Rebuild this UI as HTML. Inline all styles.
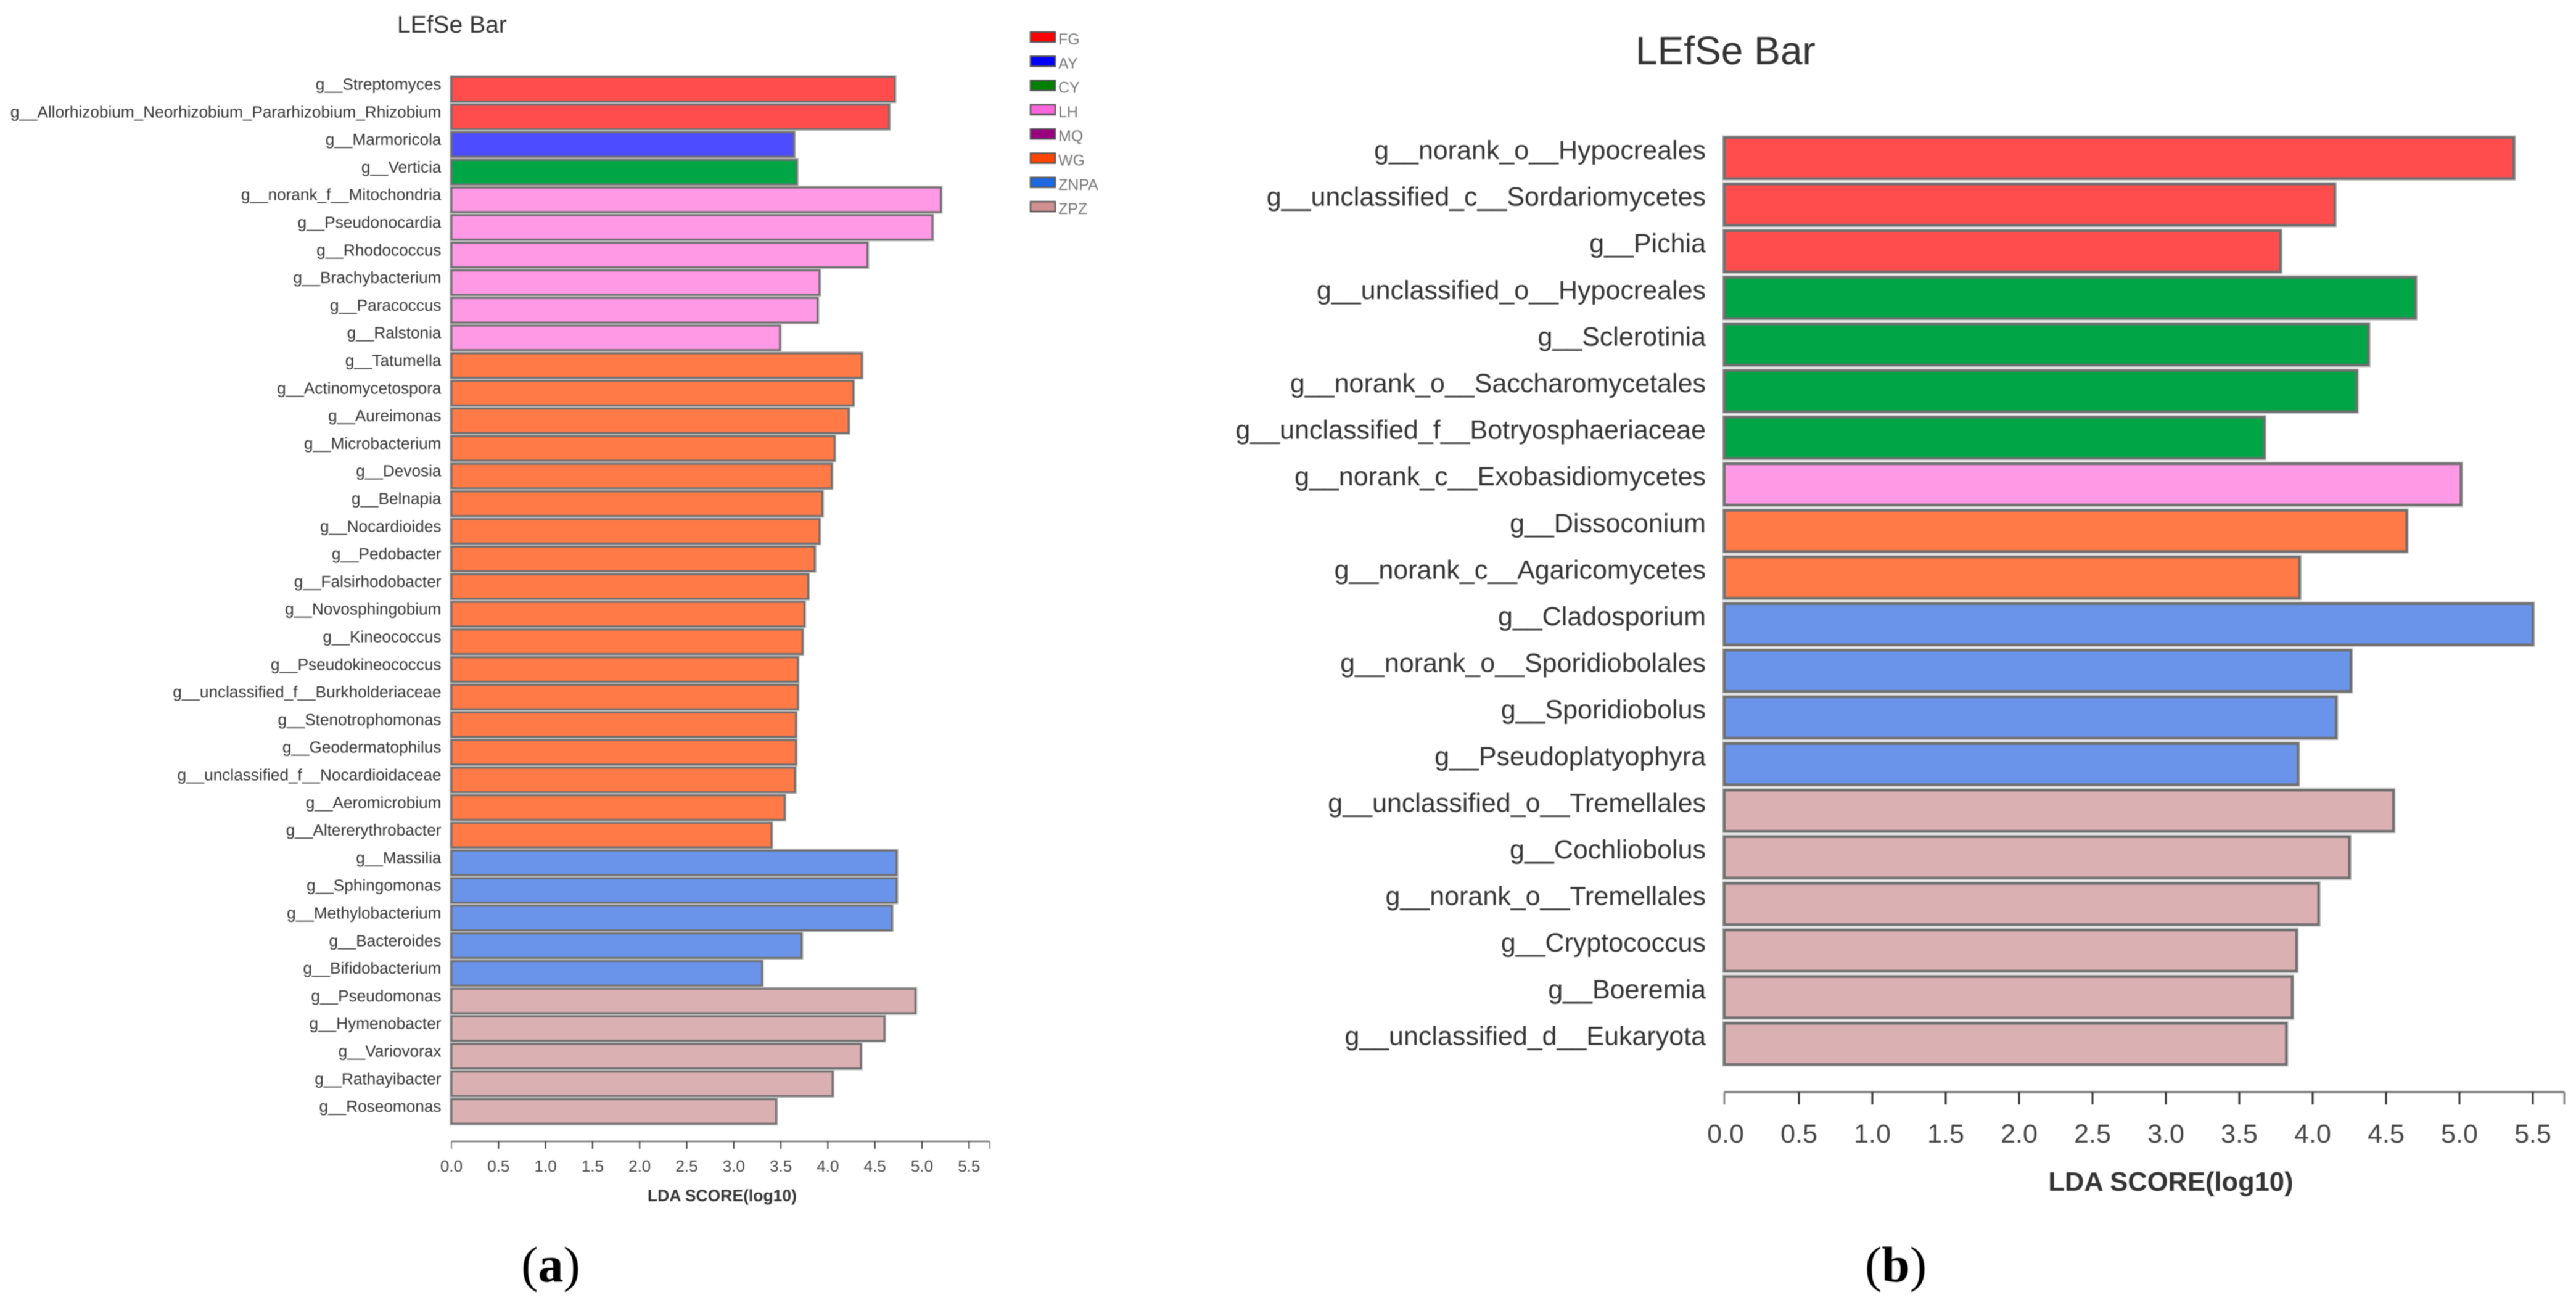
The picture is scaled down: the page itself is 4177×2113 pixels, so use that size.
<!DOCTYPE html>
<html lang="en">
<head>
<meta charset="utf-8">
<title>LEfSe Bar charts</title>
<style>
html,body{margin:0;padding:0;background:#fff;width:4177px;height:2113px;overflow:hidden}
svg{display:block;filter:blur(.8px)}
text{font-family:"Liberation Sans",sans-serif}
.panel{font-family:"Liberation Serif",serif;fill:#000}
</style>
</head>
<body>
<svg id="chart" xmlns="http://www.w3.org/2000/svg" width="4177" height="2113" viewBox="0 0 4177 2113">
  <rect x="0" y="0" width="4177" height="2113" fill="#fff"/>
  <text x="644" y="53" font-size="39" fill="#333">LEfSe Bar</text>
  <text x="2652" y="104" font-size="64" fill="#333">LEfSe Bar</text>
  <text x="1171" y="1948" font-size="26.5" font-weight="bold" text-anchor="middle" fill="#333">LDA SCORE(log10)</text>
  <text x="3520" y="1931" font-size="43.5" font-weight="bold" text-anchor="middle" fill="#333">LDA SCORE(log10)</text>
  <text class="panel" x="893" y="2078" font-size="82" text-anchor="middle">(<tspan font-weight="bold">a</tspan>)</text>
  <text class="panel" x="3074" y="2078" font-size="82" text-anchor="middle">(<tspan font-weight="bold">b</tspan>)</text>
  <g id="chart-a"></g>
  <g id="chart-b"></g>
  <g id="legend"></g>
</svg>
<script>
const categoriesA = ["g__Streptomyces","g__Allorhizobium_Neorhizobium_Pararhizobium_Rhizobium","g__Marmoricola","g__Verticia","g__norank_f__Mitochondria","g__Pseudonocardia","g__Rhodococcus","g__Brachybacterium","g__Paracoccus","g__Ralstonia","g__Tatumella","g__Actinomycetospora","g__Aureimonas","g__Microbacterium","g__Devosia","g__Belnapia","g__Nocardioides","g__Pedobacter","g__Falsirhodobacter","g__Novosphingobium","g__Kineococcus","g__Pseudokineococcus","g__unclassified_f__Burkholderiaceae","g__Stenotrophomonas","g__Geodermatophilus","g__unclassified_f__Nocardioidaceae","g__Aeromicrobium","g__Altererythrobacter","g__Massilia","g__Sphingomonas","g__Methylobacterium","g__Bacteroides","g__Bifidobacterium","g__Pseudomonas","g__Hymenobacter","g__Variovorax","g__Rathayibacter","g__Roseomonas"];
const valuesA = [4.71,4.65,3.64,3.67,5.20,5.11,4.42,3.91,3.89,3.49,4.36,4.27,4.22,4.07,4.04,3.94,3.91,3.86,3.79,3.75,3.73,3.68,3.68,3.66,3.66,3.65,3.54,3.40,4.73,4.73,4.68,3.72,3.30,4.93,4.60,4.35,4.05,3.45];
const groupsA = ["FG","FG","AY","CY","LH","LH","LH","LH","LH","LH","WG","WG","WG","WG","WG","WG","WG","WG","WG","WG","WG","WG","WG","WG","WG","WG","WG","WG","ZNPA","ZNPA","ZNPA","ZNPA","ZNPA","ZPZ","ZPZ","ZPZ","ZPZ","ZPZ"];

const categoriesB = ["g__norank_o__Hypocreales","g__unclassified_c__Sordariomycetes","g__Pichia","g__unclassified_o__Hypocreales","g__Sclerotinia","g__norank_o__Saccharomycetales","g__unclassified_f__Botryosphaeriaceae","g__norank_c__Exobasidiomycetes","g__Dissoconium","g__norank_c__Agaricomycetes","g__Cladosporium","g__norank_o__Sporidiobolales","g__Sporidiobolus","g__Pseudoplatyophyra","g__unclassified_o__Tremellales","g__Cochliobolus","g__norank_o__Tremellales","g__Cryptococcus","g__Boeremia","g__unclassified_d__Eukaryota"];
const valuesB = [5.37,4.15,3.78,4.70,4.38,4.30,3.67,5.01,4.64,3.91,5.50,4.26,4.16,3.90,4.55,4.25,4.04,3.89,3.86,3.82];
const groupsB = ["FG","FG","FG","CY","CY","CY","CY","LH","WG","WG","ZNPA","ZNPA","ZNPA","ZNPA","ZPZ","ZPZ","ZPZ","ZPZ","ZPZ","ZPZ"];

const tickLabels = ["0.0","0.5","1.0","1.5","2.0","2.5","3.0","3.5","4.0","4.5","5.0","5.5"];
const legendGroups = ["FG","AY","CY","LH","MQ","WG","ZNPA","ZPZ"];

const barColors = {FG:"#ff4d4d",AY:"#4d4dff",CY:"#00a645",LH:"#ff99e5",MQ:"#b34db3",WG:"#ff7a47",ZNPA:"#6a94ea",ZPZ:"#dbb0b2"};
const legendColors = {FG:"#ff0000",AY:"#0000ff",CY:"#008000",LH:"#ff66dd",MQ:"#990080",WG:"#ff4500",ZNPA:"#1e68e0",ZPZ:"#d09090"};

const SVGNS = "http://www.w3.org/2000/svg";
function make(tag, parent, attrs) {
  const el = document.createElementNS(SVGNS, tag);
  Object.keys(attrs).forEach(function (k) { el.setAttribute(k, attrs[k]); });
  parent.appendChild(el);
  return el;
}

function drawChart(prefix, parent, categories, values, groups, cfg) {
  const xScale = function (v) { return cfg.x0 + v * cfg.unit; };
  const yScale = function (i) { return cfg.top + i * cfg.pitch; };
  const left = xScale(0) - cfg.barInset;

  categories.forEach(function (name, i) {
    const width = xScale(values[i]) - left;
    const halo = make("rect", parent, {x: left, y: yScale(i), width: width, height: cfg.barH, fill: "none", stroke: "#c2c2c2", "stroke-width": cfg.stroke + 3});
    
    
    const bar = make("rect", parent, {x: left, y: yScale(i), width: width, height: cfg.barH, fill: barColors[groups[i]], stroke: "#6e6e6e", "stroke-width": cfg.stroke});
    
    
    const label = make("text", parent, {x: cfg.labelRight, y: yScale(i) + cfg.labelDy, "font-size": cfg.labelSize, "text-anchor": "end", fill: "#333"});
    
    
    label.textContent = name;
  });

  const axisLine = make("line", parent, {x1: left, x2: cfg.axisEnd, y1: cfg.axisY, y2: cfg.axisY, stroke: "#8a8a8a", "stroke-width": cfg.axisW});
  
  

  tickLabels.forEach(function (t, i) {
    const tx = i === 0 ? left : xScale(parseFloat(t));
    const tick = make("line", parent, {x1: tx, x2: tx, y1: cfg.axisY, y2: cfg.axisY + cfg.tickLen, stroke: i === 0 ? "#888" : "#333", "stroke-width": cfg.tickW});
    
    
    const lab = make("text", parent, {x: xScale(parseFloat(t)), y: cfg.tickBaseline, "font-size": cfg.tickSize, "text-anchor": "middle", fill: "#444"});
    
    
    lab.textContent = t;
  });

  const endTick = make("line", parent, {x1: cfg.axisEnd, x2: cfg.axisEnd, y1: cfg.axisY, y2: cfg.axisY + cfg.tickLen, stroke: "#888", "stroke-width": cfg.tickW});
  
  
}

drawChart("a", document.getElementById("chart-a"), categoriesA, valuesA, groupsA, {
  x0: 732, unit: 152.6, top: 125, pitch: 44.8, barH: 39.5, barInset: 0, stroke: 3,
  labelRight: 715.5, labelDy: 20.5, labelSize: 26.2,
  axisY: 1851, axisEnd: 1605, axisW: 3, tickLen: 12, tickW: 2,
  tickBaseline: 1900, tickSize: 26
});
drawChart("b", document.getElementById("chart-b"), categoriesB, valuesB, groupsB, {
  x0: 2798, unit: 238, top: 223, pitch: 75.6, barH: 66.5, barInset: 2, stroke: 4,
  labelRight: 2766, labelDy: 35, labelSize: 43,
  axisY: 1771, axisEnd: 4158, axisW: 4, tickLen: 20, tickW: 3,
  tickBaseline: 1853, tickSize: 43
});

const legendRoot = document.getElementById("legend");
legendGroups.forEach(function (g, i) {
  const y = 52 + i * 39.3;
  const swatch = make("rect", legendRoot, {x: 1671, y: y, width: 40, height: 16, fill: legendColors[g], stroke: "#555", "stroke-width": 2.5});
  
  
  const text = make("text", legendRoot, {x: 1716, y: y + 20, "font-size": 25, fill: "#777"});
  
  
  text.textContent = g;
});
</script>
</body>
</html>
